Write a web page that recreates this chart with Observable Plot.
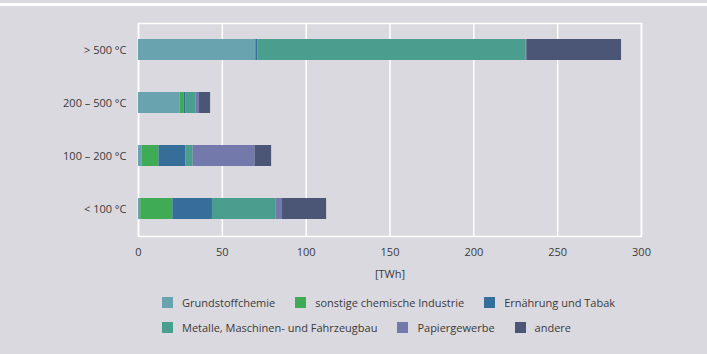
<!DOCTYPE html>
<html>
<head>
<meta charset="utf-8">
<script src="https://cdn.jsdelivr.net/npm/d3@7"></script>
<script src="https://cdn.jsdelivr.net/npm/@observablehq/plot@0.6"></script>
<style>
  html, body { margin: 0; padding: 0; background: #dad9df; }
  #wrap { position: relative; width: 707px; height: 354px; background: #dad9df; overflow: hidden;
          font-family: "Open Sans", sans-serif; color: #3a3a3a; }
  #topline { position: absolute; left: 0; top: 3px; width: 707px; height: 3px; background: #ffffff; }
  #chart { position: absolute; left: 0; top: 0; }
  #legend { position: absolute; left: 162px; top: 293px; width: 470px; display: flex; flex-wrap: wrap;
            column-gap: 20px; row-gap: 7px; font-size: 11px; }
  .item { display: flex; align-items: center; height: 18px; }
  .sw { width: 11px; height: 11px; margin-right: 9px; flex: none; }
</style>
</head>
<body>
<div id="wrap">
  <div id="topline"></div>
  <div id="chart"></div>
  <div id="legend"></div>
</div>
<script>
const categories = ["> 500 °C", "200 – 500 °C", "100 – 200 °C", "< 100 °C"];
const seriesNames = ["Grundstoffchemie", "sonstige chemische Industrie", "Ernährung und Tabak",
                     "Metalle, Maschinen- und Fahrzeugbau", "Papiergewerbe", "andere"];
const colors = ["#6aa3b0", "#40ab55", "#356e99", "#4a9e8e", "#7379ab", "#4b5676"];
const grundstoffchemie = [70, 24.8, 2.1, 1.3];
const sonstigeChemie   = [0, 2.4, 10.1, 19.2];
const ernaehrung       = [1.2, 1.2, 16.0, 23.6];
const metalle          = [160, 6.0, 4.4, 37.8];
const papier           = [0.4, 2.0, 36.9, 4.0];
const andere           = [56.5, 6.6, 9.9, 26.3];
const xTicks = [0, 50, 100, 150, 200, 250, 300];

const seriesValues = [grundstoffchemie, sonstigeChemie, ernaehrung, metalle, papier, andere];
const data = [];
categories.forEach((c, i) => {
  seriesNames.forEach((s, j) => data.push({cat: c, series: s, value: seriesValues[j][i]}));
});

const chart = Plot.plot({
  width: 707,
  height: 283,
  marginLeft: 138,
  marginRight: 66,
  marginTop: 23,
  marginBottom: 47,
  style: {background: "transparent", fontFamily: "'Open Sans', sans-serif", fontSize: "11px", color: "#3a3a3a"},
  x: {domain: [0, 300]},
  y: {domain: categories, paddingInner: 0.6, paddingOuter: 0.3},
  color: {domain: seriesNames, range: colors},
  marks: [
    Plot.gridX(xTicks, {stroke: "#ffffff", strokeOpacity: 1, strokeWidth: 1.5}),
    Plot.frame({stroke: "#ffffff", strokeWidth: 1.5}),
    Plot.barX(data, Plot.stackX({x: "value", y: "cat", fill: "series", order: seriesNames})),
    Plot.axisX({ticks: xTicks, tickSize: 0, tickPadding: 12, label: "[TWh]", labelAnchor: "center",
                labelArrow: "none", labelOffset: 41}),
    Plot.axisY({tickSize: 0, tickPadding: 12, label: null})
  ]
});
document.getElementById("chart").appendChild(chart);

const legend = document.getElementById("legend");
seriesNames.forEach((s, i) => {
  const it = document.createElement("div");
  it.className = "item";
  const sw = document.createElement("span");
  sw.className = "sw";
  sw.style.background = colors[i];
  const t = document.createElement("span");
  t.textContent = s;
  it.appendChild(sw);
  it.appendChild(t);
  legend.appendChild(it);
});
</script>
</body>
</html>
